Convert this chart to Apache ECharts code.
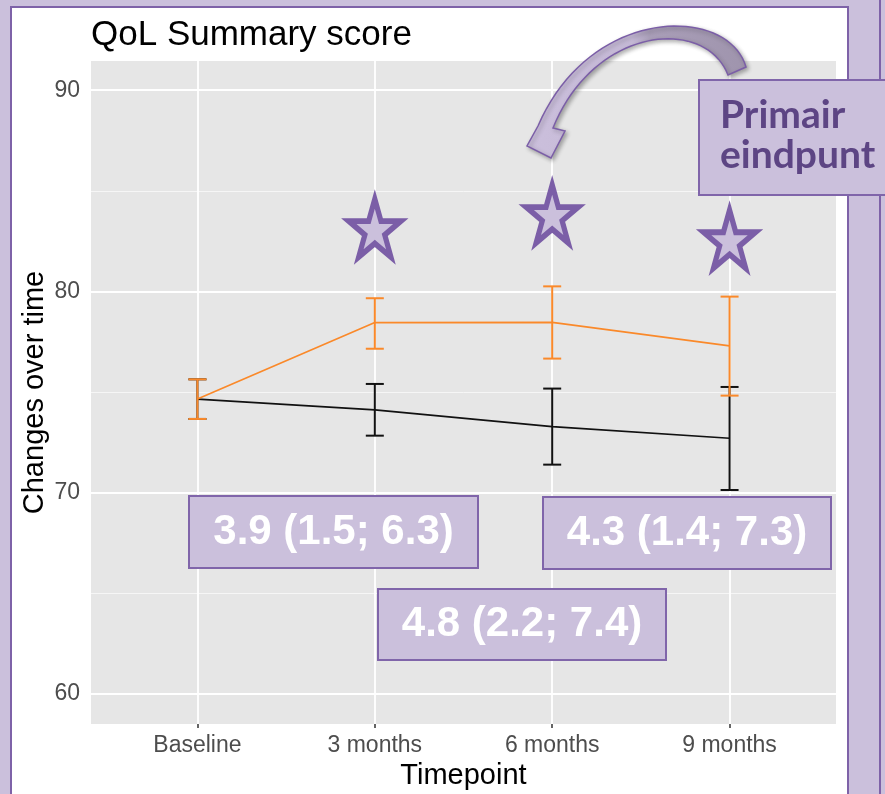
<!DOCTYPE html>
<html>
<head>
<meta charset="utf-8">
<script src="https://cdn.jsdelivr.net/npm/echarts@6/dist/echarts.min.js"></script>
<style>
html,body{margin:0;padding:0;background:#cbc0dc;}
#chart{width:885px;height:794px;}
</style>
</head>
<body>
<div id="chart"></div>
<script>
// ---- data ----
const categories = ['Baseline', '3 months', '6 months', '9 months'];
const controlMean = [74.65, 74.11, 73.28, 72.70];
const controlLow = [73.66, 72.83, 71.39, 70.13];
const controlHigh = [75.63, 75.40, 75.17, 75.25];
const interventionMean = [74.65, 78.45, 78.46, 77.29];
const interventionLow = [73.66, 77.15, 76.66, 74.82];
const interventionHigh = [75.63, 79.66, 80.25, 79.74];
const yMajorTicks = [60, 70, 80, 90];
const yMinorTicks = [65, 75, 85];
const starCategoryIndex = [1, 2, 3];
const starY = [83.15, 83.85, 82.6];
const diffLabels = ['3.9 (1.5; 6.3)', '4.8 (2.2; 7.4)', '4.3 (1.4; 7.3)'];
const calloutLines = ['Primair', 'eindpunt'];
const chartTitle = 'QoL Summary score';
const xTitle = 'Timepoint';
const yTitle = 'Changes over time';

// ---- styling ----
const ORANGE = '#fa892a';
const BLACK = '#111111';
const LAV = '#cbc0dc';
const PURPLE = '#8065aa';
const STAR_PATH = 'path://M50 0 L61.23 34.55 L97.55 34.55 L68.17 55.9 L79.39 90.45 L50 69.1 L20.61 90.45 L31.83 55.9 L2.45 34.55 L38.77 34.55 Z';

function meanData(arr){ return arr.map((v,i)=>[i, v]); }
function errData(lo, hi){ return lo.map((v,i)=>[i, v, hi[i]]); }
function errRender(color){
  return function(params, api){
    const x = api.value(0);
    const p1 = api.coord([x, api.value(1)]);
    const p2 = api.coord([x, api.value(2)]);
    const w = 9;
    const st = {stroke: color, lineWidth: 2, fill: null};
    return {type:'group', children:[
      {type:'line', shape:{x1:p1[0], y1:p1[1], x2:p2[0], y2:p2[1]}, style:st},
      {type:'line', shape:{x1:p1[0]-w, y1:p1[1], x2:p1[0]+w, y2:p1[1]}, style:st},
      {type:'line', shape:{x1:p2[0]-w, y1:p2[1], x2:p2[0]+w, y2:p2[1]}, style:st}
    ]};
  };
}
// sample a cubic bezier (decorative arrow outline)
function bez(p0, c1, c2, p3, n){
  const out = [];
  for (let k = 0; k <= n; k++){
    const t = k / n, u = 1 - t;
    out.push([
      u*u*u*p0[0] + 3*u*u*t*c1[0] + 3*u*t*t*c2[0] + t*t*t*p3[0],
      u*u*u*p0[1] + 3*u*u*t*c1[1] + 3*u*t*t*c2[1] + t*t*t*p3[1]
    ]);
  }
  return out;
}
const arrowPts = [].concat(
  bez([746,67],[728,5],[590,5],[538,126], 40),
  [[527,146],[551,158],[565,131]],
  bez([553,128],[594,26],[705,16],[728,75], 40)
);

const boxes = [
  {x:189, y:496, w:289, h:72},
  {x:378, y:589, w:288, h:71},
  {x:543, y:497, w:288, h:72}
];

const graphics = [
  {type:'rect', z:-10, silent:true, shape:{x:11, y:7, width:837, height:800},
   style:{fill:'#ffffff', stroke:'#7e62a8', lineWidth:2}},
  {type:'line', z:-10, silent:true, shape:{x1:880, y1:0, x2:880, y2:794},
   style:{stroke:'#7e62a8', lineWidth:2}},
  {type:'polygon', z:100, silent:true,
   shape:{points: arrowPts},
   style:{fill:{type:'linear', x:0, y:0, x2:1, y2:0, colorStops:[
       {offset:0, color:'#cbbfdc'}, {offset:0.48, color:'#c5b9d6'},
       {offset:0.56, color:'#a99eb8'}, {offset:1, color:'#9f94ad'}]},
     stroke:'#7b5ea7', lineWidth:1.5, shadowBlur:4, shadowOffsetX:2, shadowOffsetY:2,
     shadowColor:'rgba(0,0,0,0.3)'}},
  {type:'rect', z:100, silent:true, shape:{x:699, y:80, width:200, height:115},
   style:{fill:LAV, stroke:PURPLE, lineWidth:2}},
  {type:'text', z:101, silent:true, x:720, y:115,
   style:{text:calloutLines[0], fill:'#5d4584', font:'bold 39px Lato', align:'left', verticalAlign:'middle'}},
  {type:'text', z:101, silent:true, x:720, y:155,
   style:{text:calloutLines[1], fill:'#5d4584', font:'bold 39px Lato', align:'left', verticalAlign:'middle'}}
];
boxes.forEach((b, i) => {
  graphics.push({type:'rect', z:100, silent:true, shape:{x:b.x, y:b.y, width:b.w, height:b.h},
    style:{fill:LAV, stroke:PURPLE, lineWidth:2}});
  graphics.push({type:'text', z:101, silent:true, x:b.x + b.w/2, y:b.y + b.h/2,
    style:{text:diffLabels[i], fill:'#ffffff', font:'bold 42px "Liberation Sans"', align:'center', verticalAlign:'middle'}});
});

const chart = echarts.init(document.getElementById('chart'), null, {renderer:'canvas'});
const option = {
  animation: false,
  backgroundColor: LAV,
  title: {text: chartTitle, left: 91, top: 18, padding: 0,
    textStyle: {fontFamily:'"Liberation Sans", Arial', fontSize: 35, fontWeight:'normal', color:'#000'}},
  grid: {left: 91, top: 61, right: 49, bottom: 70, show: true, backgroundColor: '#e6e6e6', borderWidth: 0,
    containLabel: false, outerBoundsMode: 'none'},
  xAxis: {
    type: 'value', min: -0.6, max: 3.6,
    name: xTitle, nameLocation: 'middle', nameGap: 36,
    nameTextStyle: {fontFamily:'"Liberation Sans", Arial', fontSize: 29, color:'#000'},
    axisLine: {show:false},
    axisTick: {show:true, length:4, customValues:[0,1,2,3], lineStyle:{color:'#333', width:1.5}},
    axisLabel: {customValues:[0,1,2,3], formatter: v => categories[Math.round(v)] || '', margin: 10,
      fontFamily:'"Liberation Sans", Arial', fontSize: 23, color:'#4d4d4d'},
    splitLine: {show:false}
  },
  yAxis: {
    type: 'value', min: 58.5, max: 91.45,
    name: yTitle, nameLocation: 'middle', nameGap: 42, nameRotate: 90, nameMoveOverlap: false,
    nameTextStyle: {fontFamily:'"Liberation Sans", Arial', fontSize: 29, color:'#000'},
    axisLine: {show:false},
    axisTick: {show:true, length:4, customValues: yMajorTicks, lineStyle:{color:'#333', width:1.5}},
    axisLabel: {customValues: yMajorTicks, margin: 11,
      fontFamily:'"Liberation Sans", Arial', fontSize: 23, color:'#4d4d4d'},
    splitLine: {show:false}
  },
  graphic: {elements: graphics},
  series: [
    {type:'line', data:[], z:1, silent:true,
     markLine:{silent:true, z:1, symbol:['none','none'], label:{show:false}, animation:false,
       data: [
         ...yMinorTicks.map(v => ({yAxis:v, lineStyle:{color:'#f6f6f6', width:1, type:'solid'}})),
         ...yMajorTicks.map(v => ({yAxis:v, lineStyle:{color:'#ffffff', width:1.8, type:'solid'}})),
         ...categories.map((c,i) => ({xAxis:i, lineStyle:{color:'#ffffff', width:1.8, type:'solid'}}))
       ]}},
    {type:'line', name:'Control', data: meanData(controlMean), z:2, symbol:'none',
     lineStyle:{color:BLACK, width:1.7}},
    {type:'custom', name:'Control CI', data: errData(controlLow, controlHigh), z:2,
     renderItem: errRender(BLACK), encode:{x:0, y:[1,2]}},
    {type:'line', name:'Intervention', data: meanData(interventionMean), z:3, symbol:'none',
     lineStyle:{color:ORANGE, width:1.7}},
    {type:'custom', name:'Intervention CI', data: errData(interventionLow, interventionHigh), z:3,
     renderItem: errRender(ORANGE), encode:{x:0, y:[1,2]}},
    {type:'scatter', name:'Stars', z:4, symbol: STAR_PATH, symbolSize:[52,58], symbolKeepAspect:false,
     data: starCategoryIndex.map((c,i) => [c, starY[i]]),
     itemStyle:{color:LAV, borderColor:'#7b5ea7', borderWidth:5.5, opacity:1}}
  ]
};
chart.setOption(option);
</script>
</body>
</html>
